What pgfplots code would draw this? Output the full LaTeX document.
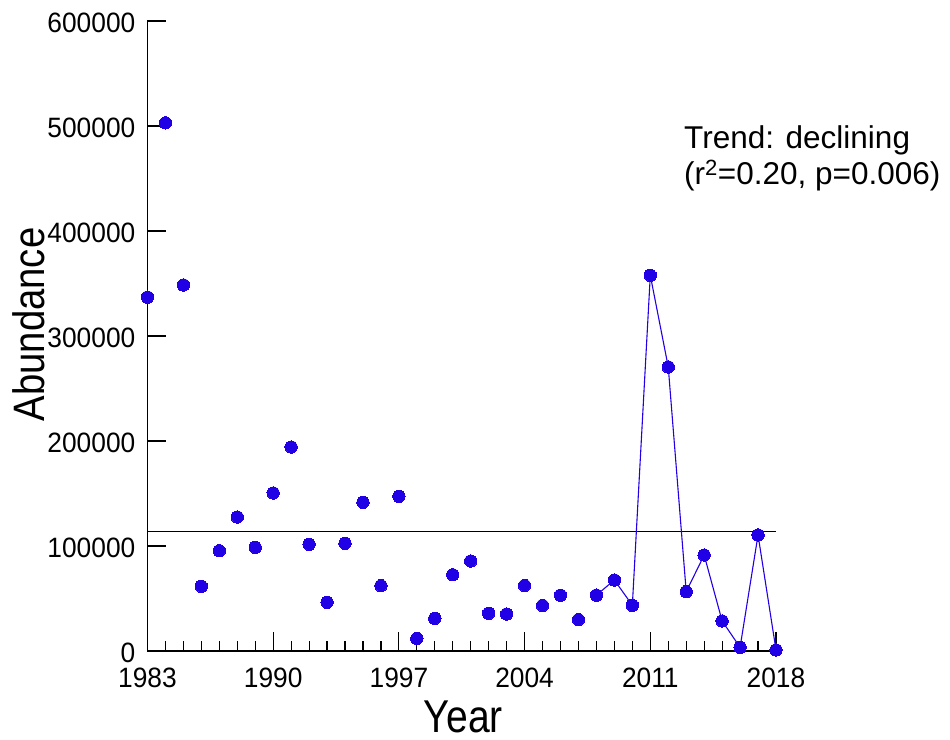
\documentclass[border=0pt]{standalone}
\usepackage{pgfplots}
\pgfplotsset{compat=1.18}
\usepackage{graphicx}
\usepackage{fontspec}
\setmainfont{Liberation Sans}
\definecolor{dotblue}{RGB}{34,0,230}
\newcommand{\tl}[1]{\scalebox{0.94}[1]{#1}}
\pgfplotstableread{
year value
1983 337000
1984 503000
1985 348600
1986 61600
1987 95500
1988 127600
1989 98700
1990 150500
1991 194300
1992 101600
1993 46400
1994 102600
1995 141600
1996 62200
1997 147300
1998 12000
1999 31100
2000 72600
2001 85700
2002 35900
2003 35200
2004 62400
2005 43400
2006 53100
2007 29900
2008 53200
2009 67600
2010 43500
2011 357800
2012 270500
2013 56500
2014 91400
2015 28600
2016 3500
2017 110500
2018 1000
}\abund
\pgfplotstableread{
year value
2008 53200
2009 67600
2010 43500
2011 357800
2012 270500
2013 56500
2014 91400
2015 28600
2016 3500
2017 110500
2018 1000
}\abundline
\pgfplotstableread{
year value
1983 113600
2018 113600
}\trendline
\begin{document}
\begin{tikzpicture}
\path[use as bounding box] (-147.5pt,-88pt) rectangle (802.5pt,651pt);
\begin{axis}[
  at={(0pt,0pt)}, anchor=south west,
  scale only axis, width=628.5pt, height=630pt,
  xmin=1983, xmax=2018, ymin=0, ymax=600000,
  axis lines*=left,
  axis line style={line width=1.4pt, black},
  tick align=inside,
  xtick align=inside, ytick align=inside,
  major tick length=19pt, minor tick length=10pt,
  every tick/.append style={black, line width=1.2pt},
  xtick={1983,1990,1997,2004,2011,2018},
  xticklabels={\tl{1983},\tl{1990},\tl{1997},\tl{2004},\tl{2011},\tl{2018}},
  minor x tick num=6,
  scaled y ticks=false,
  ytick={0,100000,200000,300000,400000,500000,600000},
  yticklabels={\tl{0},\tl{100000},\tl{200000},\tl{300000},\tl{400000},\tl{500000},\tl{600000}},
  ticklabel style={font=\fontsize{28}{33}\selectfont, inner sep=0pt},
  xticklabel style={anchor=north, yshift=-17pt},
  yticklabel style={anchor=east, xshift=-12pt, yshift=-1.5pt},
  clip=false,
  xlabel={\scalebox{0.85}[1]{Year}},
  ylabel={\scalebox{0.87}[1]{Abundance}},
  every axis x label/.style={at={(axis description cs:0.5026,-0.129)}, anchor=base, inner sep=0pt, font=\fontsize{46}{52}\selectfont},
  every axis y label/.style={at={(axis description cs:-0.1631,0.5183)}, rotate=90, anchor=base, inner sep=0pt, font=\fontsize{44}{50}\selectfont},
]
\addplot[black, line width=1.3pt] table[x=year, y=value] {\trendline};
\addplot[dotblue, line width=1.1pt] table[x=year, y=value] {\abundline};
\addplot[only marks, mark=*, mark size=6.2pt, mark options={fill=dotblue, draw=dotblue, line width=0pt}] table[x=year, y=value] {\abund};
\node[anchor=base west, inner sep=0pt, font=\fontsize{31.5}{36}\selectfont] at (axis description cs:0.8536,0.7979) {Trend: declining};
\node[anchor=base west, inner sep=0pt, font=\fontsize{31.5}{36}\selectfont] at (axis description cs:0.8536,0.7397) {(r\textsuperscript{2}=0.20, p=0.006)};
\end{axis}
\end{tikzpicture}
\end{document}
